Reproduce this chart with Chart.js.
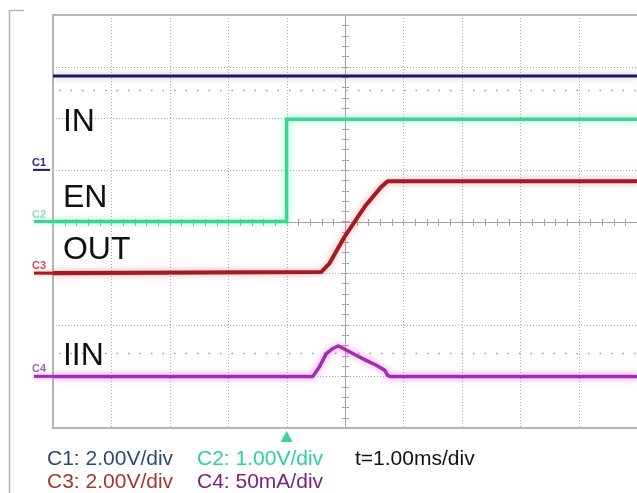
<!DOCTYPE html>
<html>
<head>
<meta charset="utf-8">
<script src="https://cdn.jsdelivr.net/npm/chart.js@4/dist/chart.umd.min.js"></script>
<style>
  html, body { margin: 0; padding: 0; background: #fff; }
  #wrap { position: relative; width: 637px; height: 493px; }
</style>
</head>
<body>
<div id="wrap"><canvas id="scope"></canvas></div>
<script>
// time axis in ms (1 ms/div), vertical axis in divisions, 0 = screen centre
const c1Time = [-5, 5];
const c1Div  = [2.82, 2.82];

const c2Time = [-5, -1, -1, 5];
const c2Div  = [0, 0, 1.98, 1.98];

const c3Time = [-5, -0.41, -0.265, -0.12, -0.01, 0.11, 0.22, 0.36, 0.50, 0.62, 0.73, 5];
const c3Div  = [-1.0, -0.98, -0.81, -0.52, -0.30, -0.10, 0.09, 0.32, 0.51, 0.67, 0.78, 0.78];

const c4Time = [-5, -0.55, -0.44, -0.32, -0.21, -0.11, 0.02, 0.19, 0.36, 0.53, 0.68, 0.73, 0.77, 5];
const c4Div  = [-3.0, -3.0, -2.82, -2.56, -2.46, -2.41, -2.49, -2.59, -2.69, -2.78, -2.88, -2.98, -3.0, -3.0];

const channelNames   = ['C1', 'C2', 'C3', 'C4'];
const channelOffsets = [1, 0, -1, -3];
const traceLabels    = ['IN', 'EN', 'OUT', 'IIN'];
const scaleText      = ['C1: 2.00V/div', 'C2: 1.00V/div', 't=1.00ms/div', 'C3: 2.00V/div', 'C4: 50mA/div'];
const triggerTime    = -1;

const traceColors = ['#1c1c52', '#38d894', '#9e1c22', '#a22cb4'];
const glowColors  = ['rgba(120,120,230,0.55)', 'rgba(90,235,170,0.65)', 'rgba(240,110,120,0.65)', 'rgba(230,90,240,0.75)'];
const markerTextColors = ['#2a2a7a', '#8fdcc0', '#c4505a', '#9a6aa6'];

function toPoints(xs, ys) {
    return xs.map((x, i) => ({ x: x, y: ys[i] }));
}

const traces = [
    toPoints(c1Time, c1Div),
    toPoints(c2Time, c2Div),
    toPoints(c3Time, c3Div),
    toPoints(c4Time, c4Div)
];

const widths = [3, 3.5, 4, 3.5];

const datasets = traces.map((pts, i) => ({
    label: channelNames[i],
    data: pts,
    borderColor: traceColors[i],
    borderWidth: widths[i],
    pointRadius: 0,
    tension: 0,
    borderJoinStyle: 'round',
    glow: glowColors[i]
}));

const FONT = '"Liberation Sans", Arial, sans-serif';

// graticule: dotted divisions, centre axes with minor ticks, frame
const graticule = {
    id: 'graticule',
    beforeDatasetsDraw(chart) {
        const { ctx, chartArea: a, scales: { x, y } } = chart;
        ctx.save();

        // outer window edge
        ctx.strokeStyle = '#b4b4b4';
        ctx.lineWidth = 1.5;
        ctx.beginPath();
        ctx.moveTo(24, 10.5);
        ctx.lineTo(9.5, 10.5);
        ctx.lineTo(9.5, 493);
        ctx.stroke();

        ctx.strokeStyle = '#a9a9a9';
        ctx.lineWidth = 1;
        ctx.setLineDash([1, 2]);
        for (let t = -4; t <= 4; t++) {
            if (t === 0) continue;
            const px = Math.round(x.getPixelForValue(t)) + 0.5;
            ctx.beginPath();
            ctx.moveTo(px, a.top);
            ctx.lineTo(px, a.bottom);
            ctx.stroke();
        }
        for (let d = -3; d <= 3; d++) {
            if (d === 0) continue;
            const py = Math.round(y.getPixelForValue(d)) + 0.5;
            ctx.beginPath();
            ctx.moveTo(a.left, py);
            ctx.lineTo(a.right, py);
            ctx.stroke();
        }

        // sparse reference rows
        ctx.strokeStyle = '#9c9c9c';
        ctx.lineWidth = 1.5;
        ctx.setLineDash([1.5, 10]);
        [2.55, -2.55].forEach(d => {
            const py = Math.round(y.getPixelForValue(d)) + 0.5;
            ctx.beginPath();
            ctx.moveTo(a.left + 6, py);
            ctx.lineTo(a.right, py);
            ctx.stroke();
        });
        ctx.setLineDash([]);

        // centre axes
        const cx = Math.round(x.getPixelForValue(0)) + 0.5;
        const cy = Math.round(y.getPixelForValue(0)) + 0.5;
        ctx.strokeStyle = '#a4a4a4';
        ctx.lineWidth = 1;
        ctx.beginPath();
        ctx.moveTo(cx, a.top);
        ctx.lineTo(cx, a.bottom);
        ctx.moveTo(a.left, cy);
        ctx.lineTo(a.right, cy);
        for (let t = -5; t <= 5.001; t += 0.2) {
            const px = Math.round(x.getPixelForValue(t)) + 0.5;
            ctx.moveTo(px, cy - 3.5);
            ctx.lineTo(px, cy + 3.5);
        }
        for (let d = -4; d <= 4.001; d += 0.2) {
            const py = Math.round(y.getPixelForValue(d)) + 0.5;
            ctx.moveTo(cx - 3.5, py);
            ctx.lineTo(cx + 3.5, py);
        }
        ctx.stroke();

        // screen border
        ctx.strokeStyle = '#b6b6b6';
        ctx.lineWidth = 2;
        ctx.strokeRect(a.left, a.top, a.right - a.left + 2, a.bottom - a.top);
        ctx.restore();
    }
};

// soft phosphor glow around each trace
const glow = {
    id: 'glow',
    beforeDatasetDraw(chart, args) {
        const ds = chart.data.datasets[args.index];
        chart.ctx.save();
        chart.ctx.shadowColor = ds.glow;
        chart.ctx.shadowBlur = 7;
    },
    afterDatasetDraw(chart) {
        chart.ctx.restore();
    }
};

// channel markers, trace names, trigger arrow and scale readout
const annotations = {
    id: 'annotations',
    afterDraw(chart) {
        const { ctx, chartArea: a, scales: { x, y } } = chart;
        ctx.save();

        channelOffsets.forEach((off, i) => {
            const py = y.getPixelForValue(off);
            ctx.strokeStyle = traceColors[i];
            ctx.lineWidth = i === 0 ? 2 : 3;
            ctx.shadowColor = glowColors[i];
            ctx.shadowBlur = i === 0 ? 0 : 4;
            ctx.beginPath();
            ctx.moveTo(a.left - (i === 0 ? 20 : 19), py);
            ctx.lineTo(a.left + (i === 0 ? -3 : 0), py);
            ctx.stroke();
            ctx.shadowBlur = 0;
            ctx.fillStyle = markerTextColors[i];
            ctx.font = 'bold 11px ' + FONT;
            ctx.textBaseline = 'alphabetic';
            ctx.fillText(channelNames[i], a.left - 21, py - 4);
        });

        // trace names
        const labelY = [1.75, 0.28, -0.73, -2.78];
        ctx.fillStyle = '#111';
        ctx.font = '32px ' + FONT;
        traceLabels.forEach((t, i) => {
            ctx.fillText(t, x.getPixelForValue(-4.83), y.getPixelForValue(labelY[i]));
        });

        // trigger position
        const tx = x.getPixelForValue(triggerTime);
        ctx.fillStyle = '#3fd39a';
        ctx.beginPath();
        ctx.moveTo(tx, a.bottom + 3);
        ctx.lineTo(tx - 6, a.bottom + 14);
        ctx.lineTo(tx + 6, a.bottom + 14);
        ctx.closePath();
        ctx.fill();

        // scale readout
        ctx.font = '21px ' + FONT;
        const rows = [a.bottom + 37, a.bottom + 60];
        const cols = [47, 197, 355];
        const textColors = ['#2d4a6b', '#2fcfa0', '#111111', '#a2392e', '#7a2283'];
        const place = [[0, 0], [1, 0], [2, 0], [0, 1], [1, 1]];
        scaleText.forEach((s, i) => {
            ctx.fillStyle = textColors[i];
            ctx.fillText(s, cols[place[i][0]], rows[place[i][1]]);
        });
        ctx.restore();
    }
};

new Chart(document.getElementById('scope'), {
    type: 'line',
    data: { datasets: datasets },
    options: {
        responsive: true,
        maintainAspectRatio: false,
        animation: false,
        layout: { padding: { left: 53, top: 15, right: 0, bottom: 65 } },
        scales: {
            x: { type: 'linear', min: -5, max: 5, display: false },
            y: { type: 'linear', min: -4, max: 4, display: false }
        },
        plugins: {
            legend: { display: false },
            tooltip: { enabled: false }
        }
    },
    plugins: [graticule, glow, annotations]
});
</script>
</body>
</html>
